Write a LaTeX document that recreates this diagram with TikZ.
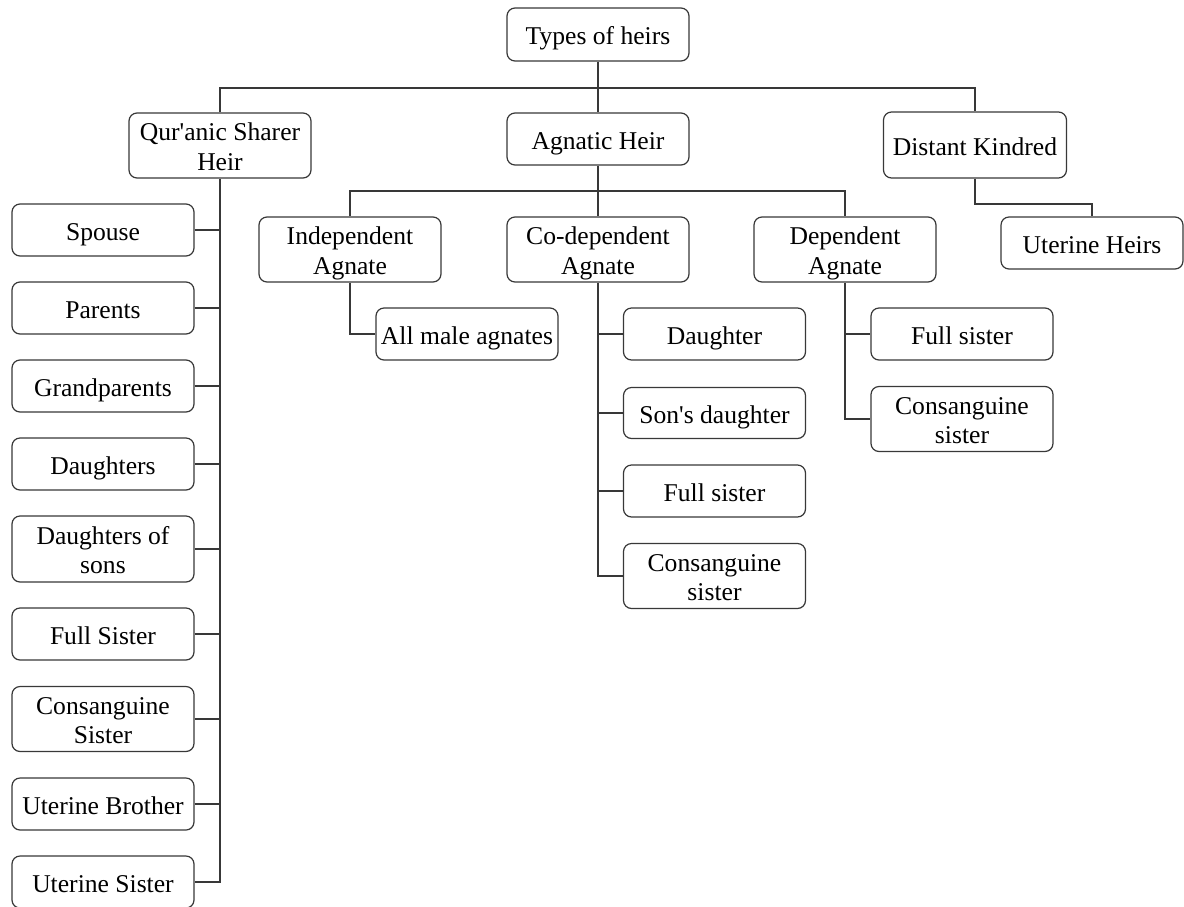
\documentclass[tikz,border=0pt]{standalone}
\usepackage{fontspec}
\setmainfont{Liberation Serif}
% two centred lines with fixed struts so every two-line box sits alike
\newcommand{\twoline}[2]{\rule{0pt}{25.5pt}#1\\#2\rule[-6pt]{0pt}{6pt}}
\begin{document}
\begin{tikzpicture}[x=1pt,y=-1pt,
  heir/.style={draw=black!78, line width=1.2pt, rounded corners=8pt, fill=white,
    minimum width=182pt, minimum height=52pt, inner xsep=2pt, inner ysep=0pt,
    text height=21pt, text depth=1pt,
    align=center, font=\fontsize{25.6}{29.5}\selectfont, text=black},
  tall/.style={heir, minimum height=65pt, text height={}, text depth={}},
  link/.style={draw=black!78, line width=1.2pt}]
\useasboundingbox (0,0) rectangle (1184,906);

% top level
\node[heir, minimum height=53pt] (types) at (598,34.5) {Types of heirs};
\node[tall] (qs) at (220,145.5) {\twoline{Qur\textquotesingle anic Sharer}{Heir}};
\node[heir] (ag) at (598,139) {Agnatic Heir};
\node[heir, minimum height=66pt, minimum width=183pt] (dk) at (975,145) {Distant Kindred};
\node[heir] (uh) at (1092,243) {Uterine Heirs};

% agnatic sub-types
\node[tall] (ia) at (350,249.5) {\twoline{Independent}{Agnate}};
\node[tall] (ca) at (598,249.5) {\twoline{Co-dependent}{Agnate}};
\node[tall] (da) at (845,249.5) {\twoline{Dependent}{Agnate}};

\node[heir] (am) at (467,334) {All male agnates};

\node[heir] (cd1) at (714.5,334) {Daughter};
\node[heir, minimum height=51pt] (cd2) at (714.5,413) {Son\textquotesingle s daughter};
\node[heir] (cd3) at (714.5,491) {Full sister};
\node[tall] (cd4) at (714.5,576) {\twoline{Consanguine}{sister}};

\node[heir] (dd1) at (962,334) {Full sister};
\node[tall] (dd2) at (962,419) {\twoline{Consanguine}{sister}};

% Qur'anic sharers
\node[heir] (l1) at (103,230) {Spouse};
\node[heir] (l2) at (103,308) {Parents};
\node[heir] (l3) at (103,386) {Grandparents};
\node[heir] (l4) at (103,464) {Daughters};
\node[tall, minimum height=66pt] (l5) at (103,549) {\twoline{Daughters of}{sons}};
\node[heir] (l6) at (103,634) {Full Sister};
\node[tall] (l7) at (103,719) {\twoline{Consanguine}{Sister}};
\node[heir] (l8) at (103,804) {Uterine Brother};
\node[heir] (l9) at (103,882) {Uterine Sister};

% junction points
\coordinate (top) at (598,88);
\coordinate (mid) at (598,191);
\coordinate (dkj) at (975,204);

% connectors
\draw[link] (types.south) -- (top);
\draw[link] (qs.north) -- (qs.north |- top) -- (dk.north |- top) -- (dk.north);
\draw[link] (top) -- (ag.north);
\draw[link] (dk.south) -- (dkj) -| (uh.north);

\draw[link] (ag.south) -- (mid);
\draw[link] (ia.north) -- (ia.north |- mid) -- (da.north |- mid) -- (da.north);
\draw[link] (mid) -- (ca.north);

\draw[link] (ia.south) |- (am.west);

\draw[link] (ca.south) |- (cd4.west);
\foreach \c in {cd1,cd2,cd3}
  \draw[link] (ca.south |- \c.west) -- (\c.west);

\draw[link] (da.south) |- (dd2.west);
\draw[link] (da.south |- dd1.west) -- (dd1.west);

\draw[link] (qs.south) |- (l9.east);
\foreach \c in {l1,l2,l3,l4,l5,l6,l7,l8}
  \draw[link] (\c.east) -- (\c.east -| qs.south);
\end{tikzpicture}
\end{document}
